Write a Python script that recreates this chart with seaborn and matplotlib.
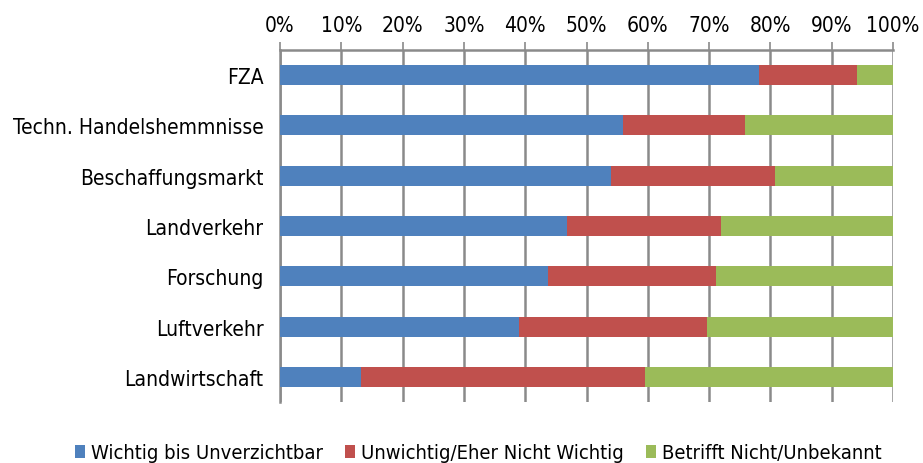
import pandas as pd
import numpy as np
import matplotlib.pyplot as plt
import seaborn as sns
from matplotlib.ticker import FixedLocator, PercentFormatter
from matplotlib.patches import Patch

# categories, top to bottom
categories = ['FZA', 'Techn. Handelshemmnisse', 'Beschaffungsmarkt', 'Landverkehr',
              'Forschung', 'Luftverkehr', 'Landwirtschaft']
# shares in percent
wichtig = [78.2, 55.9, 54.0, 46.8, 43.8, 39.0, 13.2]
unwichtig = [15.9, 19.9, 26.7, 25.1, 27.4, 30.6, 46.3]
betrifft = [5.9, 24.2, 19.3, 28.1, 28.8, 30.4, 40.5]

series_names = ['Wichtig bis Unverzichtbar', 'Unwichtig/Eher Nicht Wichtig', 'Betrifft Nicht/Unbekannt']
colors = ['#4F81BD', '#C0504D', '#9BBB59']

df = pd.DataFrame({'cat': categories, 'w': wichtig, 'u': unwichtig, 'b': betrifft})
df['c1'] = df['w']
df['c2'] = df['w'] + df['u']
df['c3'] = df['c2'] + df['b']

sns.set_style('white')
plt.rcParams['font.family'] = ['DejaVu Sans']
plt.rcParams['font.stretch'] = 'condensed'
plt.rcParams['text.color'] = 'black'
plt.rcParams['xtick.labelcolor'] = 'black'
plt.rcParams['ytick.labelcolor'] = 'black'

fs = 15

fig, ax = plt.subplots(figsize=(9.23, 4.64), dpi=100)
fig.subplots_adjust(left=280/923, right=893/923, top=1-51/464, bottom=1-403/464)

# stacked bars: draw cumulative totals, widest first
for col, c in zip(['c3', 'c2', 'c1'], colors[::-1]):
    sns.barplot(data=df, x=col, y='cat', color=c, orient='h', width=0.4,
                saturation=1, ax=ax, linewidth=0, zorder=3)

ax.set_xlim(0, 100)
ax.set_ylim(len(categories) - 0.5, -0.5)
ax.xaxis.set_major_locator(FixedLocator(np.arange(0, 101, 10)))
ax.xaxis.set_major_formatter(PercentFormatter(decimals=0))
ax.xaxis.tick_top()
ax.grid(axis='x', color='#8a8a8a', linewidth=1.8, zorder=0)
ax.set_axisbelow(True)
ax.set_xlabel('')
ax.set_ylabel('')

ax.tick_params(axis='x', which='major', direction='out', length=6, width=1.2,
               color='#8a8a8a', labelsize=fs, pad=5)
ax.tick_params(axis='y', which='major', length=0, labelsize=fs, pad=12)
ax.yaxis.set_minor_locator(FixedLocator(np.arange(-0.5, len(categories), 1)))
ax.tick_params(axis='y', which='minor', direction='out', length=7, width=1.2, color='#8a8a8a')

for s in ['right', 'bottom']:
    ax.spines[s].set_visible(False)
for s in ['left', 'top']:
    ax.spines[s].set_color('#8a8a8a')
    ax.spines[s].set_linewidth(1.8)

handles = [Patch(facecolor=c, edgecolor='none', label=n) for c, n in zip(colors, series_names)]
fig.legend(handles=handles, loc='center', bbox_to_anchor=(0.518, 1-454/464), ncol=3,
           frameon=False, fontsize=14.5, handlelength=0.5, handleheight=0.6,
           handletextpad=0.3, columnspacing=1.1, borderpad=0)

plt.savefig('out.png', dpi=100)
